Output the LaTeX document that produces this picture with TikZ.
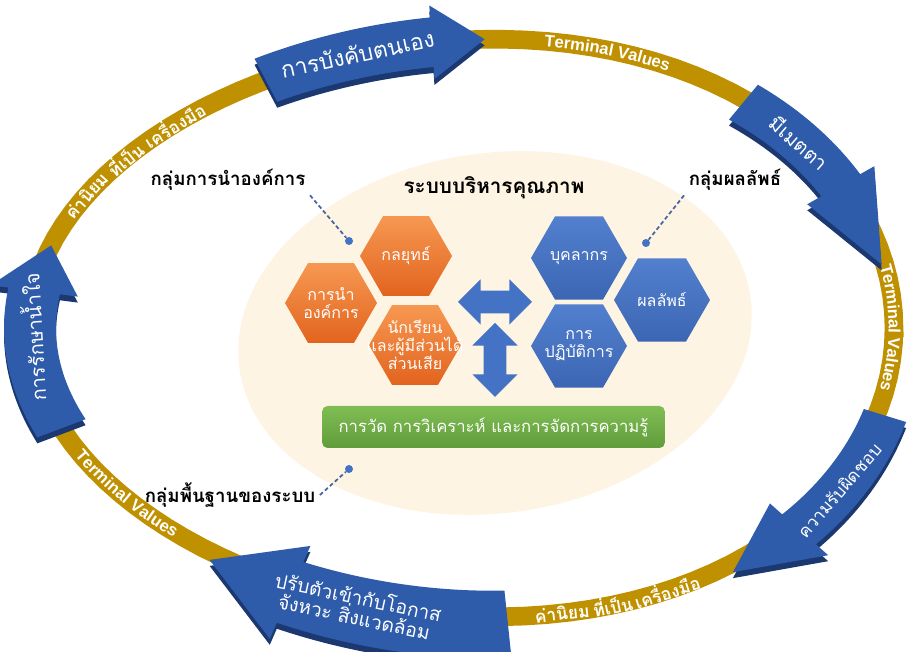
\documentclass[tikz,border=0pt]{standalone}
\usepackage{fontspec}
\setmainfont[Script=Thai]{Loma}
\newfontfamily\latinfont{Liberation Sans}
\usepackage{tikz}
\usetikzlibrary{arrows.meta}
\usetikzlibrary{positioning}
\usetikzlibrary{shapes.geometric}
\usetikzlibrary{shapes.arrows}
\usetikzlibrary{decorations.text}

\definecolor{ringgold}{RGB}{191,144,0}
\definecolor{arrowface}{RGB}{46,92,170}
\definecolor{arrowside}{RGB}{27,56,112}
\definecolor{hexblue}{RGB}{68,114,196}
\definecolor{bluetop}{RGB}{82,128,206}
\definecolor{bluebot}{RGB}{60,102,180}
\definecolor{orangetop}{RGB}{246,152,82}
\definecolor{orangebot}{RGB}{226,100,30}
\definecolor{greentop}{RGB}{128,190,84}
\definecolor{greenbot}{RGB}{96,156,58}
\definecolor{cream}{RGB}{253,244,227}
\definecolor{leadblue}{RGB}{70,100,160}

% tail, head back, tip, half body, half head, offset
\newcommand\ringpath[6]{plot[domain=#1:#2,samples=25] ({ringx(\x,#6+#4)},{ringy(\x,#6+#4)})
  -- ({ringx(#2,#6+#5)},{ringy(#2,#6+#5)}) -- ({ringx(#3,#6)},{ringy(#3,#6)})
  -- ({ringx(#2,#6-#5)},{ringy(#2,#6-#5)})
  -- plot[domain=#2:#1,samples=25] ({ringx(\x,#6-#4)},{ringy(\x,#6-#4)}) -- cycle}
\newcommand\ringarrow[6]{\fill[arrowside,shift={(0,-6)}] \ringpath{#1}{#2}{#3}{#4}{#5}{#6};
  \fill[arrowface] \ringpath{#1}{#2}{#3}{#4}{#5}{#6};}

\begin{document}
\begin{tikzpicture}[x=0.75pt,y=0.75pt,
  declare function={ringx(\t,\r)=462+(432+\r)*cos(\t);
    ringy(\t,\r)=324+(288+\r)*(1+0.076*cos(\t))*sin(\t);
    ringang(\t)=atan2(-288*(cos(\t)+0.076*cos(2*\t)),432*sin(\t));},
  hexo/.style={regular polygon,regular polygon sides=6,minimum size=69pt,inner sep=0pt,
    top color=orangetop,bottom color=orangebot},
  hexb/.style={hexo,top color=bluetop,bottom color=bluebot,minimum size=72pt},
  hextext/.style={align=center,text=white,font=\fontsize{12}{13.5}\selectfont},
  grouplabel/.style={font=\bfseries\fontsize{14}{16}\selectfont},
  leaddot/.style={circle,fill=hexblue,inner sep=0pt,minimum size=6pt},
  leader/.style={leadblue,line width=1.3pt,dash pattern=on 3pt off 2pt},
  arrowtext/.style={text=white,align=center,font=\fontsize{15}{16}\selectfont},
  bandtext/.style={text=white,font=\bfseries\fontsize{13}{14}\selectfont},
  dblarrow/.style={double arrow,fill=hexblue,inner sep=8.25pt,minimum height=55.5pt,
    double arrow head extend=8.6pt}]
\fill[white] (0,0) rectangle (910,652);
\useasboundingbox (0,0) rectangle (910,652);

% ring
\draw[ringgold,line width=14pt] plot[domain=0:360,samples=120] ({ringx(\x,0)},{ringy(\x,0)}) -- cycle;

% centre
\fill[cream,rotate around={8:(495,319)}] (495,319) ellipse[x radius=258,y radius=180];
\node[font=\bfseries\fontsize{15.5}{17}\selectfont] (title) at (494,464) {ระบบบริหารคุณภาพ};

\node[hexo] (lead) at (331,349) {};
\node[hexo] (strat) at (406,396) {};
\node[hexo] (stud) at (415,307) {};
\node[hexb] (staff) at (579,394) {};
\node[hexb] (result) at (662,352) {};
\node[hexb] (ops) at (579,306) {};
\node[hextext] (leadtext) at (lead) {การนำ\\องค์การ};
\node[hextext] (strattext) at (strat) {กลยุทธ์};
\node[hextext] (studtext) at (stud) {นักเรียน\\และผู้มีส่วนได้\\ส่วนเสีย};
\node[hextext] (stafftext) at (staff) {บุคลากร};
\node[hextext] (resulttext) at (result) {ผลลัพธ์};
\node[hextext] (opstext) at (ops) {การ\\ปฏิบัติการ};

\node[dblarrow] (harrow) at (495,350) {};
\node[dblarrow,shape border rotate=90] (varrow) at (495,292) {};

\node[rounded corners=4pt,minimum width=257pt,minimum height=31.5pt,top color=greentop,
  bottom color=greenbot,text=white,font=\fontsize{12.5}{14}\selectfont] (measure) at (493.5,225)
  {การวัด การวิเคราะห์ และการจัดการความรู้};

\node[grouplabel] (leadlabel) at (228,472) {กลุ่มการนำองค์การ};
\node[grouplabel] (resultlabel) at (735,472) {กลุ่มผลลัพธ์};
\node[grouplabel] (baselabel) at (230,157) {กลุ่มพื้นฐานของระบบ};
\node[leaddot] (leaddot) at (349,411) {};
\node[leaddot] (resultdot) at (646,409) {};
\node[leaddot] (basedot) at (349,183) {};
\draw[leader] (leadlabel.south east) -- (leaddot);
\draw[leader] (resultlabel.south west) -- (resultdot);
\draw[leader] (baselabel.east) -- (basedot);

% band texts
\foreach \t/\w in {150.5/ค่านิยม,141.3/ที่เป็น,131.8/เครื่องมือ}
  \node[bandtext,rotate={ringang(\t)}] at ({ringx(\t,0)},{ringy(\t,0)}) {\w};
\foreach \t/\w in {-76.6/ค่านิยม,-69.6/ที่เป็น,-61.7/เครื่องมือ}
  \node[bandtext,rotate={ringang(\t)+180}] at ({ringx(\t,0)},{ringy(\t,0)}) {\w};
\path[decorate,decoration={text along path,text align=center,raise=-4pt,text color=white,
  text={|\latinfont\bfseries\fontsize{12.5}{14}\selectfont|Terminal Values}}]
  plot[domain=82:58,samples=40] ({ringx(\x,0)},{ringy(\x,0)});
\path[decorate,decoration={text along path,text align=center,raise=-4pt,text color=white,
  text={|\latinfont\bfseries\fontsize{12.5}{14}\selectfont|Terminal Values}}]
  plot[domain=20:-20,samples=40] ({ringx(\x,0)},{ringy(\x,0)});
\path[decorate,decoration={text along path,text align=center,raise=-4pt,text color=white,
  text={|\latinfont\bfseries\fontsize{12.5}{14}\selectfont|Terminal Values}}]
  plot[domain=198:236,samples=40] ({ringx(\x,0)},{ringy(\x,0)});

% arrows
\ringarrow{117}{94}{87}{25}{37}{0}
\ringarrow{49}{28}{12}{22}{38}{-3}
\ringarrow{-16}{-40}{-52}{22}{38}{8}
\ringarrow{-84}{-113}{-125}{34}{52}{8}
\ringarrow{202}{172}{162}{26}{44}{0}
\node[arrowtext,font=\fontsize{17}{18}\selectfont,rotate={ringang(104)}] (selfctl)
  at ({ringx(104,0)},{ringy(104,0)}) {การบังคับตนเอง};
\node[arrowtext,rotate={ringang(38)}] (mercy) at ({ringx(38,-4)},{ringy(38,-4)}) {มีเมตตา};
\node[arrowtext,font=\fontsize{13}{15}\selectfont,rotate={ringang(-31)+180}] (duty)
  at ({ringx(-31,8)},{ringy(-31,8)}) {ความรับผิดชอบ};
\node[arrowtext,font=\fontsize{14.5}{15}\selectfont,rotate={ringang(-104)+180}] (adapt)
  at ({ringx(-104,4)},{ringy(-104,4)}) {ปรับตัวเข้ากับโอกาส\\จังหวะ สิ่งแวดล้อม};
\node[arrowtext,rotate={ringang(182)}] (care) at ({ringx(182,-2)},{ringy(182,-2)}) {การรักษาน้ำใจ};
\end{tikzpicture}
\end{document}
